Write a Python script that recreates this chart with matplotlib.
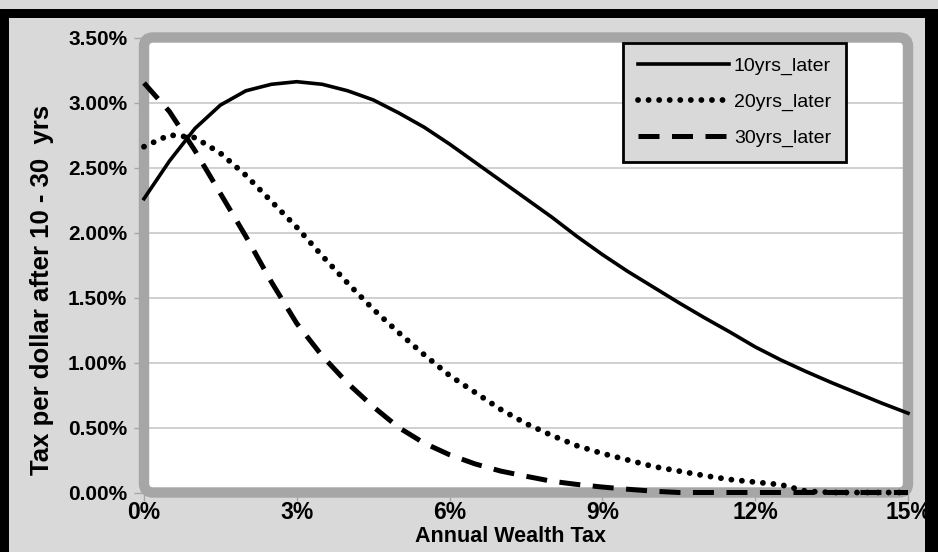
"""
Wealth tax chart: tax per dollar after 10 / 20 / 30 years vs annual wealth tax
"""
import numpy as np
import matplotlib
matplotlib.use('Agg')
import matplotlib.pyplot as plt
from matplotlib.patches import FancyBboxPatch, Rectangle
from matplotlib.transforms import IdentityTransform
from matplotlib.ticker import FuncFormatter

# annual wealth tax (%)
tax_rate = [0, 0.5, 1, 1.5, 2, 2.5, 3, 3.5, 4, 4.5, 5, 5.5, 6, 6.5, 7, 7.5,
            8, 8.5, 9, 9.5, 10, 10.5, 11, 11.5, 12, 12.5, 13, 13.5, 14, 14.5, 15]

# tax per dollar (%)
later_10 = [2.26, 2.55, 2.80, 2.98, 3.09, 3.14, 3.16, 3.14, 3.09, 3.02, 2.92,
            2.81, 2.68, 2.54, 2.40, 2.26, 2.12, 1.97, 1.83, 1.70, 1.58, 1.46,
            1.345, 1.235, 1.12, 1.02, 0.93, 0.845, 0.765, 0.685, 0.61]
later_20 = [2.66, 2.75, 2.73, 2.61, 2.44, 2.24, 2.04, 1.82, 1.61, 1.41, 1.23,
            1.06, 0.90, 0.77, 0.64, 0.53, 0.44, 0.36, 0.30, 0.25, 0.20, 0.165,
            0.13, 0.10, 0.08, 0.06, 0.01, 0.0, 0.0, 0.0, 0.0]
later_30 = [3.15, 2.93, 2.63, 2.30, 1.97, 1.62, 1.30, 1.05, 0.84, 0.66, 0.50,
            0.38, 0.29, 0.22, 0.165, 0.125, 0.087, 0.062, 0.042, 0.025, 0.01,
            0.0, 0.0, 0.0, 0.0, 0.0, 0.0, 0.0, 0.0, 0.0, 0.0]

series_names = ['10yrs_later', '20yrs_later', '30yrs_later']

W, H = 938, 552
BG = '#d9d9d9'
WALL = '#a6a6a6'

plt.rcParams['font.family'] = ['Liberation Sans', 'DejaVu Sans']
plt.rcParams['font.weight'] = 'bold'

fig = plt.figure(figsize=(W / 100, H / 100), dpi=100, facecolor=BG)

# 绘图区 (像素): x 144..908, y 37.5..492.5 (从上往下)
left, right, top, bottom = 144, 908, 37.5, 492.5
ax = fig.add_axes([left / W, 1 - bottom / H, (right - left) / W, (bottom - top) / H])
ax.set_facecolor('white')
ax.set_xlim(0, 15)
ax.set_ylim(0, 3.5)
for s in ax.spines.values():
    s.set_visible(False)

ax.set_yticks(np.arange(0, 3.51, 0.5))
ax.set_xticks(range(0, 16, 3))
ax.yaxis.set_major_formatter(FuncFormatter(lambda v, p: f'{v:.2f}%'))
ax.xaxis.set_major_formatter(FuncFormatter(lambda v, p: f'{v:.0f}%'))
ax.grid(axis='y', color='#c8c8c8', lw=1.2)
ax.set_axisbelow(True)
ax.tick_params(axis='y', length=7, width=1, color=WALL, pad=5, labelsize=15)
ax.tick_params(axis='x', length=6, width=1, color=WALL, pad=0, labelsize=16.5)

# 灰色粗边框 (圆角)
wall = FancyBboxPatch((left, H - bottom), right - left, bottom - top,
                      boxstyle='round,pad=0,rounding_size=9',
                      transform=IdentityTransform(), facecolor='none',
                      edgecolor=WALL, lw=7.5, clip_on=False, zorder=1.5)
ax.add_patch(wall)

ax.plot(tax_rate, later_10, color='black', lw=2.6, label=series_names[0],
        clip_on=False, zorder=3)
ax.plot(tax_rate, later_20, color='black', lw=4.2, ls=(0, (0.01, 1.8)),
        dash_capstyle='round', label=series_names[1], clip_on=False, zorder=3)
ax.plot(tax_rate, later_30, color='black', lw=3.6, ls=(0, (4.2, 2.5)),
        dash_capstyle='butt', label=series_names[2], clip_on=False, zorder=3)

leg = ax.legend(loc='upper left', bbox_to_anchor=(623 / W, 1 - 43 / H),
                bbox_transform=fig.transFigure, borderaxespad=0,
                prop={'size': 14, 'weight': 'normal'}, handlelength=4.7,
                handletextpad=0.25, labelspacing=0.93, borderpad=0.75,
                fancybox=False, framealpha=1, facecolor=BG, edgecolor='black')
leg.get_frame().set_linewidth(2)

fig.text(510 / W, 1 - 536 / H, 'Annual Wealth Tax', ha='center', va='center',
         fontsize=15.5)
fig.text(42 / W, 1 - 290 / H, 'Tax per dollar after 10 - 30  yrs', ha='center',
         va='center', rotation=90, fontsize=18.5)

# 黑色外框
for x0, y0, w, h in [(0, 0, 9, H - 9), (0, H - 18, W, 9), (925, 0, 13, H - 9)]:
    fig.add_artist(Rectangle((x0, y0), w, h, transform=IdentityTransform(),
                             facecolor='black', edgecolor='none'))

fig.savefig('out.png', dpi=100, facecolor=BG)
